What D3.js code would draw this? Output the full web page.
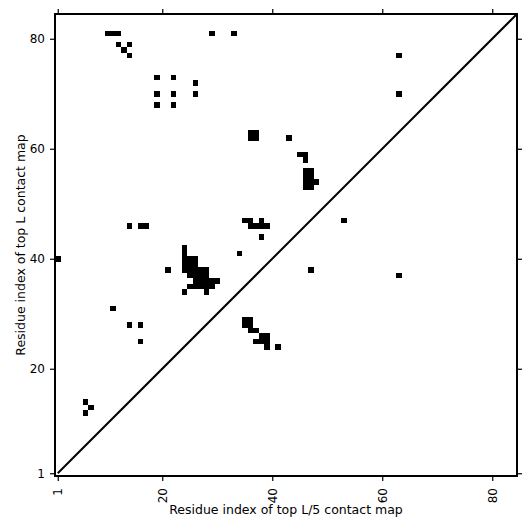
<!DOCTYPE html>
<html>
<head>
<meta charset="utf-8">
<script src="https://cdn.jsdelivr.net/npm/d3@7"></script>
<style>
    body { margin: 0; background: #fff; }
    text { font-family: "DejaVu Sans", sans-serif; }
</style>
</head>
<body>
<div class="chart"></div>
<script>
// residue range shown on both axes (cells are centred on integer residues)
const residueDomain = [0.5, 84.5];
const tickValues = [1, 20, 40, 60, 80];
const diagonalEnds = [1, 84.5];

// contacts: residue index on x (top L/5) and y (top L)
const contactX = [
    10, 11, 12, 12, 14, 13, 14, 29, 33,
    19, 22, 26, 19, 22, 26, 19, 22, 63, 63,
    36, 37, 36, 37, 43, 45, 46, 46,
    46, 47, 46, 47, 46, 47, 48, 46, 47,
    35, 36, 38, 36, 37, 38, 39, 38, 53,
    14, 16, 17, 1, 21, 34, 11, 14, 16, 16,
    24, 24, 24, 25, 26, 24, 25, 26, 24, 25, 26, 27, 28,
    25, 26, 27, 28, 26, 27, 28, 29, 30, 25, 26, 27, 28, 29, 24, 28,
    47, 63,
    35, 36, 35, 36, 36, 37, 38, 39, 37, 38, 39, 39, 41,
    6, 7, 6
];
const contactY = [
    81, 81, 81, 79, 79, 78, 77, 81, 81,
    73, 73, 72, 70, 70, 70, 68, 68, 77, 70,
    62, 62, 63, 63, 62, 59, 59, 58,
    56, 56, 55, 55, 54, 54, 54, 53, 53,
    47, 47, 47, 46, 46, 46, 46, 44, 47,
    46, 46, 46, 40, 38, 41, 31, 28, 28, 25,
    42, 41, 40, 40, 40, 39, 39, 39, 38, 38, 38, 38, 38,
    37, 37, 37, 37, 36, 36, 36, 36, 36, 35, 35, 35, 35, 35, 34, 34,
    38, 37,
    29, 29, 28, 28, 27, 27, 26, 26, 25, 25, 25, 24, 24,
    14, 13, 12
];

const margin = {
    top: 14,
    right: 14,
    bottom: 55,
    left: 55
}
const width = 531 - margin.left - margin.right;
const height = 531 - margin.top - margin.bottom;

const svg = d3.select('.chart')
    .append('svg')
        .attr('width', 531)
        .attr('height', 531);

const chart = svg.append('g')
    .attr('transform', `translate(${margin.left}, ${margin.top})`);

const xScale = d3.scaleLinear()
    .domain(residueDomain)
    .range([0, width]);

const yScale = d3.scaleLinear()
    .domain(residueDomain)
    .range([height, 0]);

const contacts = contactX.map((x, i) => ({ x: x, y: contactY[i] }));

chart.selectAll('rect.cell')
    .data(contacts)
    .enter()
    .append('rect')
        .attr('class', 'cell')
        .attr('x', d => xScale(d.x - 0.5))
        .attr('y', d => yScale(d.y + 0.5))
        .attr('width', d => xScale(d.x + 0.5) - xScale(d.x - 0.5))
        .attr('height', d => yScale(d.y - 0.5) - yScale(d.y + 0.5))
        .attr('fill', '#000')
        .attr('shape-rendering', 'crispEdges');

// diagonal reference line
chart.append('line')
    .attr('x1', xScale(diagonalEnds[0]))
    .attr('y1', yScale(diagonalEnds[0]))
    .attr('x2', xScale(diagonalEnds[1]))
    .attr('y2', yScale(diagonalEnds[1]))
    .attr('stroke', '#000')
    .attr('stroke-width', 2);

// axes, ticks on all four sides
const xAxis = d3.axisBottom(xScale)
    .tickValues(tickValues)
    .tickSize(5)
    .tickPadding(5);

const yAxis = d3.axisLeft(yScale)
    .tickValues(tickValues)
    .tickSize(5)
    .tickPadding(5);

chart.append('g')
    .attr('transform', `translate(0, ${height})`)
    .call(xAxis)
    .selectAll('text')
        .attr('transform', 'rotate(-90)')
        .attr('x', -12)
        .attr('y', 0)
        .attr('dy', '0.35em')
        .style('text-anchor', 'end');

chart.append('g')
    .call(yAxis);

chart.append('g')
    .call(d3.axisTop(xScale).tickValues(tickValues).tickSize(5).tickFormat(''));

chart.append('g')
    .attr('transform', `translate(${width}, 0)`)
    .call(d3.axisRight(yScale).tickValues(tickValues).tickSize(5).tickFormat(''));

chart.selectAll('.domain').remove();
chart.selectAll('.tick line')
    .attr('stroke', '#000')
    .attr('stroke-width', 1.2);
chart.selectAll('.tick text')
    .attr('fill', '#000')
    .style('font-size', '12px')
    .style('font-family', '"DejaVu Sans", sans-serif');

// frame
chart.append('rect')
    .attr('width', width)
    .attr('height', height)
    .attr('fill', 'none')
    .attr('stroke', '#000')
    .attr('stroke-width', 2);

// axis titles
svg.append('text')
    .attr('x', margin.left + width / 2)
    .attr('y', 514)
    .attr('text-anchor', 'middle')
    .style('font-size', '12.5px')
    .text('Residue index of top L/5 contact map');

svg.append('text')
    .attr('transform', `translate(25, ${margin.top + height / 2}) rotate(-90)`)
    .attr('text-anchor', 'middle')
    .style('font-size', '12.5px')
    .text('Residue index of top L contact map');
</script>
</body>
</html>
